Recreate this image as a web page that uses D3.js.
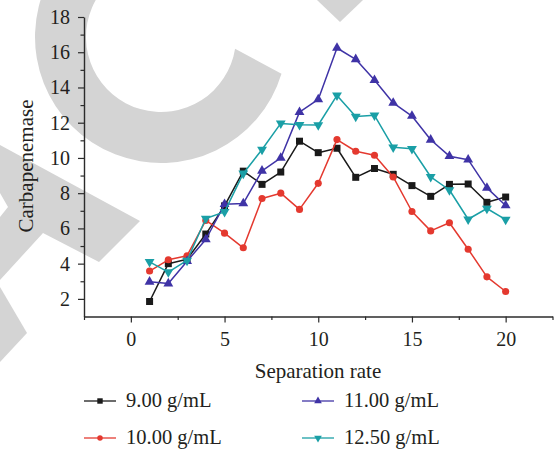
<!DOCTYPE html>
<html>
<head>
<meta charset="utf-8">
<script src="https://cdn.jsdelivr.net/npm/d3@7"></script>
<style>
  html, body { margin: 0; padding: 0; background: #fff; }
  svg { display: block; }
  svg text { font-family: "Liberation Serif", "DejaVu Serif", serif !important; fill: #231f20; }
</style>
</head>
<body>
<svg id="chart" width="554" height="451"></svg>
<script>
// Separation rate (x) for every series
const separation = d3.range(1, 21);

// Carbapenemase readings per density
const series900 = [1.85, 4.0, 4.25, 5.68, 7.28, 9.25, 8.5, 9.2, 10.95, 10.3, 10.55, 8.9, 9.4, 9.07, 8.43, 7.82, 8.5, 8.52, 7.48, 7.78];
const series1000 = [3.58, 4.22, 4.45, 6.45, 5.73, 4.9, 7.7, 8.0, 7.08, 8.56, 11.04, 10.38, 10.15, 8.92, 6.96, 5.86, 6.32, 4.82, 3.25, 2.42];
const series1100 = [2.97, 2.87, 4.14, 5.37, 7.37, 7.42, 9.27, 10.0, 12.6, 13.32, 16.24, 15.6, 14.42, 13.12, 12.38, 11.03, 10.1, 9.9, 8.3, 7.3];
const series1250 = [4.1, 3.52, 4.18, 6.56, 6.94, 9.12, 10.48, 11.96, 11.88, 11.87, 13.55, 12.35, 12.42, 10.6, 10.52, 8.93, 8.18, 6.52, 7.13, 6.5];

const seriesNames = ["9.00 g/mL", "10.00 g/mL", "11.00 g/mL", "12.50 g/mL"];
const seriesColors = ["#1a1a1a", "#e4392f", "#3f33a6", "#1a9fa6"];
const seriesSymbols = ["square", "circle", "triangle", "triangleDown"];

const yMajorTicks = [2, 4, 6, 8, 10, 12, 14, 16, 18];
const yMinorTicks = [3, 5, 7, 9, 11, 13, 15, 17];
const xMajorTicks = [0, 5, 10, 15, 20];
const xMinorTicks = [-2.5, 2.5, 7.5, 12.5, 17.5, 22.5];

const xTitle = "Separation rate";
const yTitle = "Carbapenemase";

const serif = "'Liberation Serif', 'DejaVu Serif', serif";
const svg = d3.select("#chart");

const x = d3.scaleLinear().domain([-2.5, 22.5]).range([84, 552.5]);
const y = d3.scaleLinear().domain([1, 18]).range([316.5, 17]);

// Light grey background watermark
const wm = svg.append("g").attr("fill", "#d4d4d4");
const deg = Math.PI / 180;
const ring = d3.path();
ring.arc(161, 37, 126, 17 * deg, 300 * deg, false);
ring.arc(161, 37, 75, 300 * deg, 9 * deg, true);
ring.closePath();
wm.append("path").attr("d", ring.toString());
wm.append("polygon").attr("points", "317,0 340,22 363,0 340,-23");
wm.append("polygon").attr("points", "0,145 140,221 99,262 43,233 0,280 0,217 8,207 0,193");
wm.append("polygon").attr("points", "0,287 27,333 0,362");

// Axes
const axisColor = "#2b2b2b";
const gy = svg.append("g").attr("transform", `translate(${x.range()[0]},0)`);
gy.call(d3.axisLeft(y).tickValues(yMajorTicks).tickFormat(d3.format("d")).tickSize(6).tickPadding(8).tickSizeOuter(0));
gy.append("g").call(d3.axisLeft(y).tickValues(yMinorTicks).tickFormat("").tickSize(3.5).tickSizeOuter(0))
  .select(".domain").remove();

const gx = svg.append("g").attr("transform", `translate(0,${y.range()[0]})`);
gx.call(d3.axisBottom(x).tickValues(xMajorTicks).tickFormat(d3.format("d")).tickSize(6).tickPadding(9).tickSizeOuter(0));
gx.append("g").call(d3.axisBottom(x).tickValues(xMinorTicks).tickFormat("").tickSize(3.5).tickSizeOuter(0))
  .select(".domain").remove();

svg.selectAll("g").attr("font-family", serif);
svg.selectAll(".domain").attr("stroke", axisColor).attr("stroke-width", 1.4);
svg.selectAll(".tick line").attr("stroke", axisColor).attr("stroke-width", 1.2);
svg.selectAll(".tick text")
  .style("font-family", serif)
  .attr("font-size", 20).attr("fill", "#231f20");

// Axis titles
svg.append("text")
  .attr("x", 318).attr("y", 378)
  .attr("text-anchor", "middle").attr("font-size", 21)
  .style("font-family", serif)
  .text(xTitle);
svg.append("text")
  .attr("transform", "translate(33,166) rotate(-90)")
  .attr("text-anchor", "middle").attr("font-size", 21)
  .style("font-family", serif)
  .text(yTitle);

// Marker generators
function symbolPath(kind, scale) {
  const s = scale || 1;
  if (kind === "square") return d3.symbol(d3.symbolSquare, 49 * s)();
  if (kind === "circle") return d3.symbol(d3.symbolCircle, 40 * s)();
  return d3.symbol(d3.symbolTriangle, 42 * s)();
}
function symbolTransform(kind) {
  return kind === "triangleDown" ? " rotate(180)" : "";
}

const allSeries = [series900, series1000, series1100, series1250];
const line = d3.line().x(d => x(d[0])).y(d => y(d[1]));

allSeries.forEach((vals, i) => {
  const pts = separation.map((s, k) => [s, vals[k]]);
  const g = svg.append("g");
  g.append("path").datum(pts)
    .attr("d", line)
    .attr("fill", "none")
    .attr("stroke", seriesColors[i])
    .attr("stroke-width", 1.5)
    .attr("stroke-linejoin", "round");
  g.selectAll("path.mk").data(pts).join("path")
    .attr("class", "mk")
    .attr("d", symbolPath(seriesSymbols[i]))
    .attr("transform", d => `translate(${x(d[0])},${y(d[1])})` + symbolTransform(seriesSymbols[i]))
    .attr("fill", seriesColors[i]);
});

// Legend: two columns, two rows
const legendPos = [
  { lx: 84, ly: 401 },
  { lx: 84, ly: 438 },
  { lx: 302, ly: 401 },
  { lx: 302, ly: 438 }
];
seriesNames.forEach((name, i) => {
  const p = legendPos[i];
  const g = svg.append("g").attr("transform", `translate(${p.lx},${p.ly})`);
  g.append("line").attr("x1", 0).attr("x2", 32).attr("y1", 0).attr("y2", 0)
    .attr("stroke", seriesColors[i]).attr("stroke-width", 1.5).attr("opacity", 0.85);
  g.append("path")
    .attr("d", symbolPath(seriesSymbols[i], 0.6))
    .attr("transform", "translate(16,0)" + symbolTransform(seriesSymbols[i]))
    .attr("fill", seriesColors[i]);
  g.append("text").attr("x", 42).attr("y", 5.5)
    .attr("font-size", 20.5)
    .style("font-family", serif)
    .text(name);
});
</script>
</body>
</html>
